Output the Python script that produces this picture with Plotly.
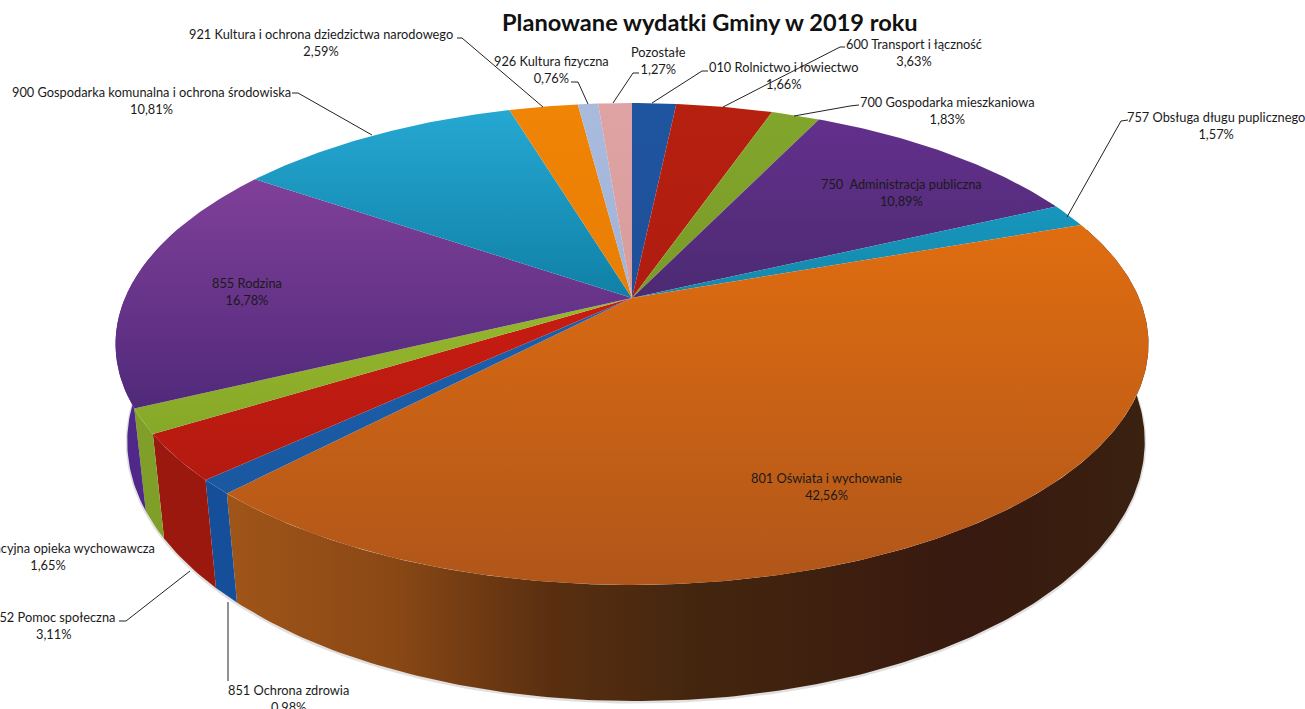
import numpy as np
import plotly.graph_objects as go

# ---------- data ----------
categories = ["010 Rolnictwo i łowiectwo", "600 Transport i łączność", "700 Gospodarka mieszkaniowa",
              "750  Administracja publiczna", "757 Obsługa długu puplicznego", "801 Oświata i wychowanie",
              "851 Ochrona zdrowia", "852 Pomoc społeczna", "854 Edukacyjna opieka wychowawcza",
              "855 Rodzina", "900 Gospodarka komunalna i ochrona środowiska",
              "921 Kultura i ochrona dziedzictwa narodowego", "926 Kultura fizyczna", "Pozostałe"]
values = [1.66, 3.63, 1.83, 10.89, 1.57, 42.56, 0.98, 3.11, 1.65, 16.78, 10.81, 2.59, 0.76, 1.27]
value_labels = ["1,66%", "3,63%", "1,83%", "10,89%", "1,57%", "42,56%", "0,98%", "3,11%", "1,65%",
                "16,78%", "10,81%", "2,59%", "0,76%", "1,27%"]

# ---------- style ----------
top_light = ["#1f55a0", "#b5200f", "#82a52c", "#63308c", "#1796bd", "#e06d10", "#1a60ad", "#c81c12",
             "#96b82c", "#80409a", "#25a8d2", "#f08405", "#a9bbdd", "#dfa3a3"]
top_dark = ["#1f4f98", "#b01c10", "#7a9c28", "#4c2a72", "#1488ab", "#b0561a", "#1a58a0", "#b41a10",
            "#86a828", "#50297a", "#1080a6", "#e87e05", "#a0b4d8", "#d89c9c"]
wall_col = ["#1a4a90", "#901a10", "#70902a", "#4a2878", "#12708f", "#a05518", "#154f9a", "#9a180e",
            "#7f9f28", "#50288a", "#1080a0", "#c06a05", "#8899bb", "#b08080"]
orange_wall_scale = [[0, "#a05518"], [0.18, "#8a4815"], [0.35, "#5a2f10"], [0.5, "#44260f"],
                     [0.8, "#38190f"], [1, "#3a2110"]]

label_pos = {  # centre x, centre y of the two-line labels
    0: (784, 75), 1: (914, 52), 2: (947, 110), 3: (901, 192), 4: (1216, 125), 5: (826, 486),
    6: (288, 698), 7: (53, 625), 8: (48, 556), 9: (247, 291), 10: (151, 100), 11: (321, 42),
    12: (551, 69), 13: (658, 60)}
leaders = [
    [(708, 71), (702, 71), (652, 103)], [(845, 47), (840, 47), (723, 107)],
    [(859, 105), (850, 106), (794, 116)], [(1128, 120), (1121, 121), (1067, 217)],
    [(228, 681), (228, 602)], [(119, 621), (126, 621), (190, 571)],
    [(292, 93), (298, 93), (372, 135)], [(457, 38), (462, 38), (543, 107)],
    [(571, 82), (578, 82), (588, 104)], [(639, 73), (633, 73), (613, 103)]]

# ---------- projection of the pie (perspective disc) ----------
XC, R, C, HOR, K_TOP, K_BOT, SHRINK, BOT_DX = 632.0, 507.0, -0.1909, -918.0, 1216.0, 1310.0, 0.985, 4.0


def rim(theta, k):
    s, t = np.sin(theta), -np.cos(theta)
    d = 1 + C * t
    if k == K_TOP:
        return XC + R * s / d, HOR + k / d
    return XC + BOT_DX + R * s / d * SHRINK, HOR + k / d


vals = np.array(values, float)
edges = np.concatenate([[0], np.cumsum(vals) / vals.sum()]) * 2 * np.pi

fig = go.Figure()

# soft shadow under the lower rim
th = np.linspace(np.pi * 0.42, np.pi * 1.56, 200)
sx, sy = rim(th, K_BOT)
fig.add_trace(go.Scatter(x=sx, y=sy + 1, mode="lines", line=dict(color="rgba(0,0,0,0.12)", width=3),
                         hoverinfo="skip", showlegend=False))

# side walls
for i in range(len(vals)):
    a, b = edges[i], edges[i + 1]
    th = np.linspace(a, b, max(6, int((b - a) * 80)))
    th = th[-np.cos(th) > -0.32]
    if len(th) < 2:
        continue
    xt, yt = rim(th, K_TOP)
    xb, yb = rim(th, K_BOT)
    x = np.concatenate([xt, xb[::-1]])
    y = np.concatenate([yt, yb[::-1]])
    kw = dict(fillcolor=wall_col[i])
    if i == 5:
        kw = dict(fillgradient=dict(type="horizontal", colorscale=orange_wall_scale,
                                    start=float(x.min()), stop=float(x.max())))
    fig.add_trace(go.Scatter(x=x, y=y, mode="lines", fill="toself", line=dict(width=0),
                             hoverinfo="skip", showlegend=False, **kw))

# top faces
apex_y = HOR + K_TOP
for i in range(len(vals)):
    a, b = edges[i], edges[i + 1]
    th = np.linspace(a, b, max(8, int((b - a) * 90)))
    xt, yt = rim(th, K_TOP)
    x = np.concatenate([[XC], xt, [XC]])
    y = np.concatenate([[apex_y], yt, [apex_y]])
    fig.add_trace(go.Scatter(
        x=x, y=y, mode="lines", fill="toself", line=dict(width=0), name=categories[i],
        hoverinfo="name", showlegend=False,
        fillgradient=dict(type="vertical", colorscale=[[0, top_light[i]], [1, top_dark[i]]],
                          start=float(y.min()), stop=float(y.max()))))

# leader lines
for pts in leaders:
    fig.add_trace(go.Scatter(x=[p[0] for p in pts], y=[p[1] for p in pts], mode="lines",
                             line=dict(color="#222222", width=1), hoverinfo="skip", showlegend=False))

# labels
for i, (cx, cy) in label_pos.items():
    fig.add_annotation(x=cx, y=cy, xref="x", yref="y", text=f"{categories[i]}<br>{value_labels[i]}",
                       showarrow=False, xanchor="center", yanchor="middle", align="center",
                       font=dict(family="Lato", size=12.8, color="#1a1a1a"))
fig.add_annotation(x=710, y=21.5, xref="x", yref="y", text="<b>Planowane wydatki Gminy w 2019 roku</b>",
                   showarrow=False, xanchor="center", yanchor="middle",
                   font=dict(family="Lato", size=23.6, color="#111111"))

fig.update_layout(width=1305, height=709, margin=dict(l=0, r=0, t=0, b=0),
                  paper_bgcolor="white", plot_bgcolor="white", showlegend=False,
                  xaxis=dict(range=[0, 1305], visible=False, fixedrange=True),
                  yaxis=dict(range=[709, 0], visible=False, fixedrange=True))
fig.write_html("out.html", post_script="document.body.style.margin='0';", config={"displayModeBar": False})
